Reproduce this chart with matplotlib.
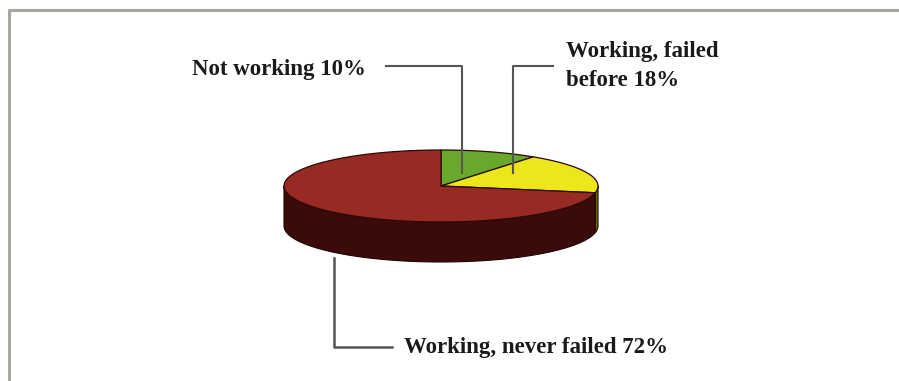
import matplotlib
matplotlib.use("Agg")
import matplotlib.pyplot as plt
import numpy as np
from matplotlib.patches import Polygon

# slice data (clockwise from 12 o'clock)
labels = ["Not working 10%", "Working, failed\nbefore 18%", "Working, never failed 72%"]
shares = [10, 18, 72]
top_colors = ["#6aa82c", "#ece61a", "#982a24"]
side_colors = ["#35540f", "#6e6a08", "#3a0b09"]

W, H = 899, 381
fig = plt.figure(figsize=(W / 100, H / 100), dpi=100)
ax = fig.add_axes([0, 0, 1, 1])
ax.set_xlim(0, W)
ax.set_ylim(H, 0)
ax.axis("off")

# frame around the chart
ax.plot([9, 9, W], [H, 10, 10], color="#a8a6a0", lw=2.2, solid_capstyle="butt")

# tilted pie geometry (pixels)
cx, cy, a, b, depth = 441, 186, 157, 36, 40


def rim(t0, t1, n=120):
    t = np.radians(np.linspace(t0, t1, n))
    return cx + a * np.cos(t), cy - b * np.sin(t)


# wedge angles, going clockwise from 90 degrees
fracs = np.array(shares) / sum(shares)
ends = 90 - 360 * np.cumsum(fracs)
starts = np.concatenate([[90], ends[:-1]])

# side walls: only the front half (180..360 degrees) is visible
for s, e, col in zip(starts, ends, side_colors):
    lo, hi = e, s
    # map angles into the 180..540 window and clip to the front arc
    for shift in (0, 360, 720):
        l, h = max(lo + shift, 180), min(hi + shift, 360)
        if h > l:
            x, y = rim(l, h)
            pts = np.column_stack([np.concatenate([x, x[::-1]]),
                                   np.concatenate([y, y[::-1] + depth])])
            ax.add_patch(Polygon(pts, closed=True, fc=col, ec="#1e0504", lw=0.8))

# top face
for s, e, col in zip(starts, ends, top_colors):
    x, y = rim(s, e)
    pts = np.column_stack([np.concatenate([[cx], x]), np.concatenate([[cy], y])])
    ax.add_patch(Polygon(pts, closed=True, fc=col, ec="#2a0a06", lw=0.9))

# leader lines
lc = "#555555"
ax.plot([386, 462, 462], [66, 66, 173], color=lc, lw=1.5)
ax.plot([553, 513, 513], [66, 66, 173], color=lc, lw=1.5)
ax.plot([334, 334, 392], [258, 347, 347], color=lc, lw=1.8)

font = dict(family="Liberation Serif", weight="bold", fontsize=16.5, color="#1a1a1a")
ax.text(192, 69, labels[0], ha="left", va="center", **font)
ax.text(566, 66, labels[1], ha="left", va="center", linespacing=1.5, **font)
ax.text(404, 348, labels[2], ha="left", va="center", **font)

fig.savefig("out.png", dpi=100)
